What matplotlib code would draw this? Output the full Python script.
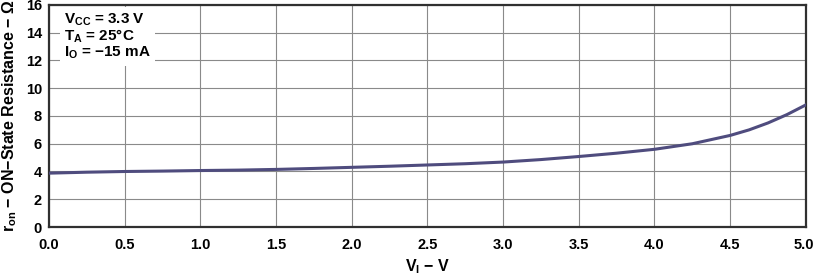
import matplotlib
matplotlib.use('Agg')
import matplotlib.pyplot as plt
import matplotlib.transforms as mtransforms

plt.rcParams['font.family'] = ['Liberation Sans', 'DejaVu Sans']
plt.rcParams['font.weight'] = 'bold'
plt.rcParams['mathtext.fontset'] = 'custom'
plt.rcParams['mathtext.rm'] = 'Liberation Sans:bold'
plt.rcParams['mathtext.it'] = 'Liberation Sans:bold'
plt.rcParams['mathtext.bf'] = 'Liberation Sans:bold'
plt.rcParams['mathtext.default'] = 'rm'

# Data
vi = [0.0, 0.25, 0.5, 0.75, 1.0, 1.25, 1.5, 1.75, 2.0, 2.25, 2.5,
      2.75, 3.0, 3.25, 3.5, 3.75, 4.0, 4.25, 4.5, 4.625, 4.75, 4.875, 5.0]
ron = [3.88, 3.95, 4.0, 4.03, 4.07, 4.1, 4.15, 4.22, 4.3, 4.38, 4.47,
       4.56, 4.68, 4.86, 5.08, 5.32, 5.6, 6.0, 6.6, 7.0, 7.5, 8.1, 8.8]

x_ticks = [0.0, 0.5, 1.0, 1.5, 2.0, 2.5, 3.0, 3.5, 4.0, 4.5, 5.0]
y_ticks = [0, 2, 4, 6, 8, 10, 12, 14, 16]

fig = plt.figure(figsize=(8.14, 2.77), dpi=100)
ax = fig.add_axes([0.0602, 0.1805, 0.9298, 0.8015])

ax.plot(vi, ron, color='#4f4c7e', linewidth=2.2, zorder=3)

ax.set_xlim(0, 5)
ax.set_ylim(0, 16)
ax.set_xticks(x_ticks)
ax.set_yticks(y_ticks)
ax.set_xticklabels([f'{t:.1f}' for t in x_ticks], fontsize=10.5, fontweight='bold')
ax.set_yticklabels([str(t) for t in y_ticks], fontsize=10.5, fontweight='bold')
ax.tick_params(length=0, pad=8)
ax.tick_params(axis='y', pad=5)
ax.grid(True, color='#8a8a8a', linewidth=0.8)
for s in ax.spines.values():
    s.set_linewidth(1.6)
    s.set_color('#303030')

# keep the last x label inside the figure, as in the original
last = ax.get_xticklabels()[-1]
last.set_ha('right')
last.set_transform(last.get_transform() +
                   mtransforms.ScaledTranslation(8 / 100, 0, fig.dpi_scale_trans))

ax.set_xlabel(r'V$_{I}$ $-$ V', fontsize=11.5, fontweight='bold', labelpad=4)
ax.set_ylabel(r'r$_{on}$ $-$ ON$-$State Resistance $-$ $\Omega$', fontsize=11.5,
              fontweight='bold', labelpad=5)

ax.text(0.1, 15.55, 'V$_{CC}$ = 3.3 V\nT$_{A}$ = 25°C\nI$_{O}$ = $-$15 mA',
        fontsize=11, fontweight='bold', va='top', ha='left', linespacing=1.0,
        bbox=dict(facecolor='white', edgecolor='none', pad=3), zorder=4)

fig.savefig('out.png', dpi=100)
